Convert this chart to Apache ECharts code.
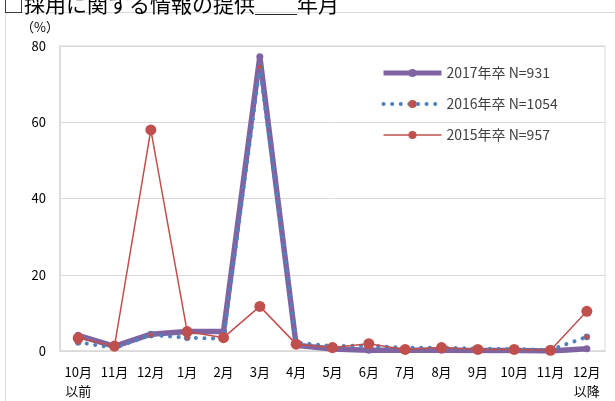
<!DOCTYPE html>
<html>
<head>
<meta charset="utf-8">
<script src="https://cdn.jsdelivr.net/npm/echarts@6/dist/echarts.min.js"></script>
<style>
  html, body { margin: 0; padding: 0; background: #fff; }
  #chart { width: 615px; height: 401px; }
</style>
</head>
<body>
<div id="chart"></div>
<script>
// Months in which recruiting information was provided
var categories = ['10月\n以前', '11月', '12月', '1月', '2月', '3月', '4月', '5月', '6月', '7月', '8月', '9月', '10月', '11月', '12月\n以降'];
var yTicks = [0, 20, 40, 60, 80];

var seriesNames = ['2017年卒 N=931', '2016年卒 N=1054', '2015年卒 N=957'];
var values2017 = [4.1, 1.2, 4.4, 5.1, 5.1, 77.2, 1.5, 0.5, 0.2, 0.2, 0.2, 0.1, 0.1, 0.0, 0.6];
var values2016 = [2.3, 0.8, 4.2, 3.5, 3.2, 74.5, 2.2, 1.3, 1.4, 0.8, 0.9, 0.6, 0.5, 0.3, 3.7];
var values2015 = [3.4, 1.3, 58.0, 5.1, 3.5, 11.7, 1.8, 0.9, 1.9, 0.4, 0.9, 0.4, 0.4, 0.2, 10.4];

var FONT = '"Noto Sans CJK JP", "Liberation Sans", sans-serif';
var chart = echarts.init(document.getElementById('chart'), null, { renderer: 'canvas' });

chart.setOption({
  animation: false,
  backgroundColor: '#ffffff',
  textStyle: { fontFamily: FONT },
  title: {
    text: '□採用に関する情報の提供＿＿年月',
    left: -2,
    top: -11,
    textStyle: { fontFamily: FONT, fontSize: 21, fontWeight: 'normal', color: '#000000' }
  },
  graphic: [
    {
      type: 'rect',
      shape: { x: 5.5, y: 12.5, width: 640, height: 420, r: 3 },
      style: { fill: null, stroke: '#d9d9d9', lineWidth: 1 },
      silent: true,
      z: -1
    },
    {
      type: 'text',
      left: 21,
      top: 21,
      style: { text: '（%）', font: '13px ' + FONT, fill: '#000000' }
    }
  ],
  grid: {
    left: 60,
    right: 10,
    top: 46,
    bottom: 47,
    show: true,
    borderColor: '#d9d9d9',
    borderWidth: 1
  },
  legend: {
    orient: 'vertical',
    left: 376,
    top: 61,
    itemWidth: 58,
    itemHeight: 10,
    itemGap: 17,
    data: [
      { name: seriesNames[0], lineStyle: { width: 5 } },
      { name: seriesNames[1], lineStyle: { width: 4 }, itemStyle: { color: '#C0504D', borderWidth: 0 } },
      { name: seriesNames[2], lineStyle: { width: 1.5 } }
    ],
    textStyle: { fontFamily: FONT, fontSize: 14, color: '#404040' }
  },
  xAxis: {
    type: 'category',
    data: categories,
    boundaryGap: true,
    axisLine: { show: true, lineStyle: { color: '#d9d9d9', width: 1.5 } },
    axisTick: { show: false },
    axisLabel: {
      color: '#000000',
      fontSize: 13,
      lineHeight: 19,
      margin: 12,
      interval: 0,
      fontFamily: FONT,
      verticalAlign: 'top'
    }
  },
  yAxis: {
    type: 'value',
    min: yTicks[0],
    max: yTicks[yTicks.length - 1],
    interval: 20,
    axisLine: { show: true, lineStyle: { color: '#d9d9d9', width: 1.5 } },
    axisTick: { show: false },
    axisLabel: { color: '#000000', fontSize: 13, margin: 14, fontFamily: FONT },
    splitLine: { show: true, lineStyle: { color: '#d9d9d9', width: 1 } }
  },
  series: [
    {
      name: seriesNames[0],
      type: 'line',
      data: values2017,
      symbol: 'circle',
      symbolSize: 7,
      color: '#8064A2',
      itemStyle: { color: '#8064A2' },
      lineStyle: { color: '#8064A2', width: 5.5 },
      z: 2
    },
    {
      name: seriesNames[1],
      type: 'line',
      data: values2016,
      symbol: 'circle',
      symbolSize: 6,
      color: '#4F81BD',
      itemStyle: { color: '#C0504D', borderColor: '#4F81BD', borderWidth: 1 },
      lineStyle: { color: '#4F81BD', width: 4, type: [0.1, 8.5], cap: 'round' },
      z: 3
    },
    {
      name: seriesNames[2],
      type: 'line',
      data: values2015,
      symbol: 'circle',
      symbolSize: 11,
      color: '#C0504D',
      itemStyle: { color: '#C0504D' },
      lineStyle: { color: '#C0504D', width: 1.5 },
      z: 4
    }
  ]
});
</script>
</body>
</html>
